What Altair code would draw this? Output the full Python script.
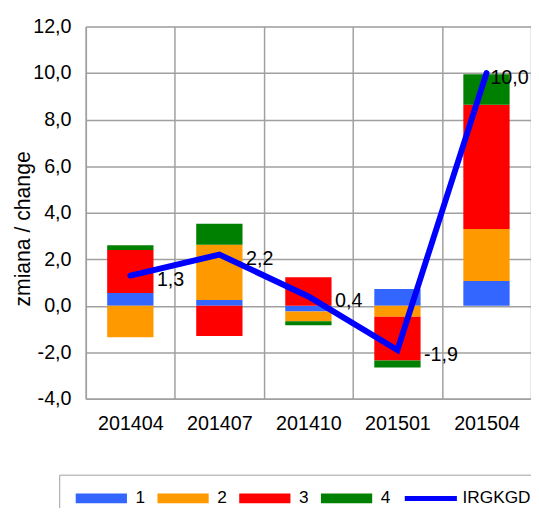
import altair as alt
import pandas as pd

# ---- data ----
periods = ["201404", "201407", "201410", "201501", "201504"]
series = ["1", "2", "3", "4"]
s1 = [0.55, 0.25, -0.25, 0.72, 1.06]
s2 = [-1.35, 2.37, -0.42, -0.47, 2.24]
s3 = [1.85, -1.30, 1.23, -1.88, 5.34]
s4 = [0.20, 0.90, -0.17, -0.30, 1.31]
irgkgd = [1.3, 2.2, 0.4, -1.9, 10.0]
line_name = "IRGKGD"
colors = ["#3366FF", "#FF9900", "#FF0000", "#008000", "#0000FF"]
y_ticks = [-4, -2, 0, 2, 4, 6, 8, 10, 12]

rows = []
for si, (name, vals) in enumerate(zip(series, [s1, s2, s3, s4])):
    for p, v in zip(periods, vals):
        rows.append({"period": p, "series": name, "value": v, "ord": si})
bars_df = pd.DataFrame(rows)
line_df = pd.DataFrame({"period": periods, "value": irgkgd, "series": [line_name] * len(periods)})

grid_col = "#A0A0A0"
font = "Liberation Sans"
num_fmt = "(datum.value < 0 ? '-' : '') + replace(format(abs(datum.value), '.1f'), '.', ',')"

domain = series + [line_name]
color_scale = alt.Scale(domain=domain, range=colors)
# legend symbol paths (unit = 7px with symbolSize 196); drawn to the right of the symbol slot
rect_path = "M-1,-0.714H6.43V0.714H-1Z"
line_path = "M-0.7,-0.357H6.86V0.357H-0.7Z"
shape_scale = alt.Scale(domain=domain, range=[rect_path] * 4 + [line_path])
legend = alt.Legend(
    title=None, orient="none", legendX=-27, legendY=455, direction="horizontal",
    symbolSize=196, symbolStrokeWidth=0, symbolOpacity=1,
    labelFontSize=17.5, labelColor="black", labelOffset=45, columnPadding=10,
    padding=15, strokeColor=grid_col, labelFont=font,
)

x_enc = alt.X(
    "period:N", sort=periods, title=None,
    scale=alt.Scale(paddingInner=0, paddingOuter=0),
    axis=alt.Axis(labelAngle=0, labelFontSize=20, labelColor="black", labelPadding=15,
                  labelFont=font, ticks=False, tickSize=0, grid=True, tickBand="extent",
                  gridColor=grid_col, gridWidth=1.5, domainColor=grid_col, domainWidth=1.5),
)
y_scale = alt.Scale(domain=[-4, 12], nice=False, zero=False)
y_axis = alt.Axis(
    values=y_ticks, labelExpr=num_fmt,
    ticks=False, tickSize=0, labelFontSize=20, labelPadding=15, labelColor="black", labelFont=font,
    titleFontSize=21.5, titleFontWeight="normal", titleColor="black", titleFont=font,
    titleAngle=270, titleAlign="center", titleBaseline="alphabetic", titleX=-57, titleY=205,
    gridColor=grid_col, gridWidth=1.5, domainColor=grid_col, domainWidth=1.5,
)

bars = alt.Chart(bars_df).mark_bar(size=47).encode(
    x=x_enc,
    y=alt.Y("value:Q", scale=y_scale, axis=y_axis, title="zmiana / change"),
    color=alt.Color("series:N", scale=color_scale, legend=legend),
    order=alt.Order("ord:Q"),
)

line = alt.Chart(line_df).mark_line(strokeWidth=6, strokeCap="round", strokeJoin="miter").encode(
    x=alt.X("period:N", sort=periods),
    y=alt.Y("value:Q"),
    color=alt.Color("series:N", scale=color_scale, legend=legend),
)

# invisible layer that only carries the legend symbol shapes
shapes = alt.Chart(line_df).mark_point(filled=True, opacity=0, size=1).encode(
    x=alt.X("period:N", sort=periods),
    y=alt.Y("value:Q"),
    color=alt.Color("series:N", scale=color_scale, legend=legend),
    shape=alt.Shape("series:N", scale=shape_scale, legend=legend),
)

text_main = alt.Chart(line_df).transform_filter(
    alt.FieldOneOfPredicate(field="period", oneOf=periods[:4])
).transform_calculate(lbl=num_fmt).mark_text(
    align="left", baseline="middle", dx=27, dy=5, fontSize=20, color="black", font=font
).encode(x=alt.X("period:N", sort=periods), y="value:Q", text="lbl:N")

text_last = alt.Chart(line_df).transform_filter(
    alt.FieldOneOfPredicate(field="period", oneOf=periods[4:])
).transform_calculate(lbl=num_fmt).mark_text(
    align="left", baseline="middle", dx=4, dy=5, fontSize=20, color="black", font=font
).encode(x=alt.X("period:N", sort=periods), y="value:Q", text="lbl:N")

chart = alt.layer(bars, line, shapes, text_main, text_last).properties(
    width=452, height=378,
    autosize=alt.AutoSizeParams(type="none"),
    padding={"left": 79, "top": 15, "right": 0, "bottom": 107},
).configure_view(stroke="transparent").configure(font=font)

chart.save("out.html", embed_options={"renderer": "svg", "actions": False})
